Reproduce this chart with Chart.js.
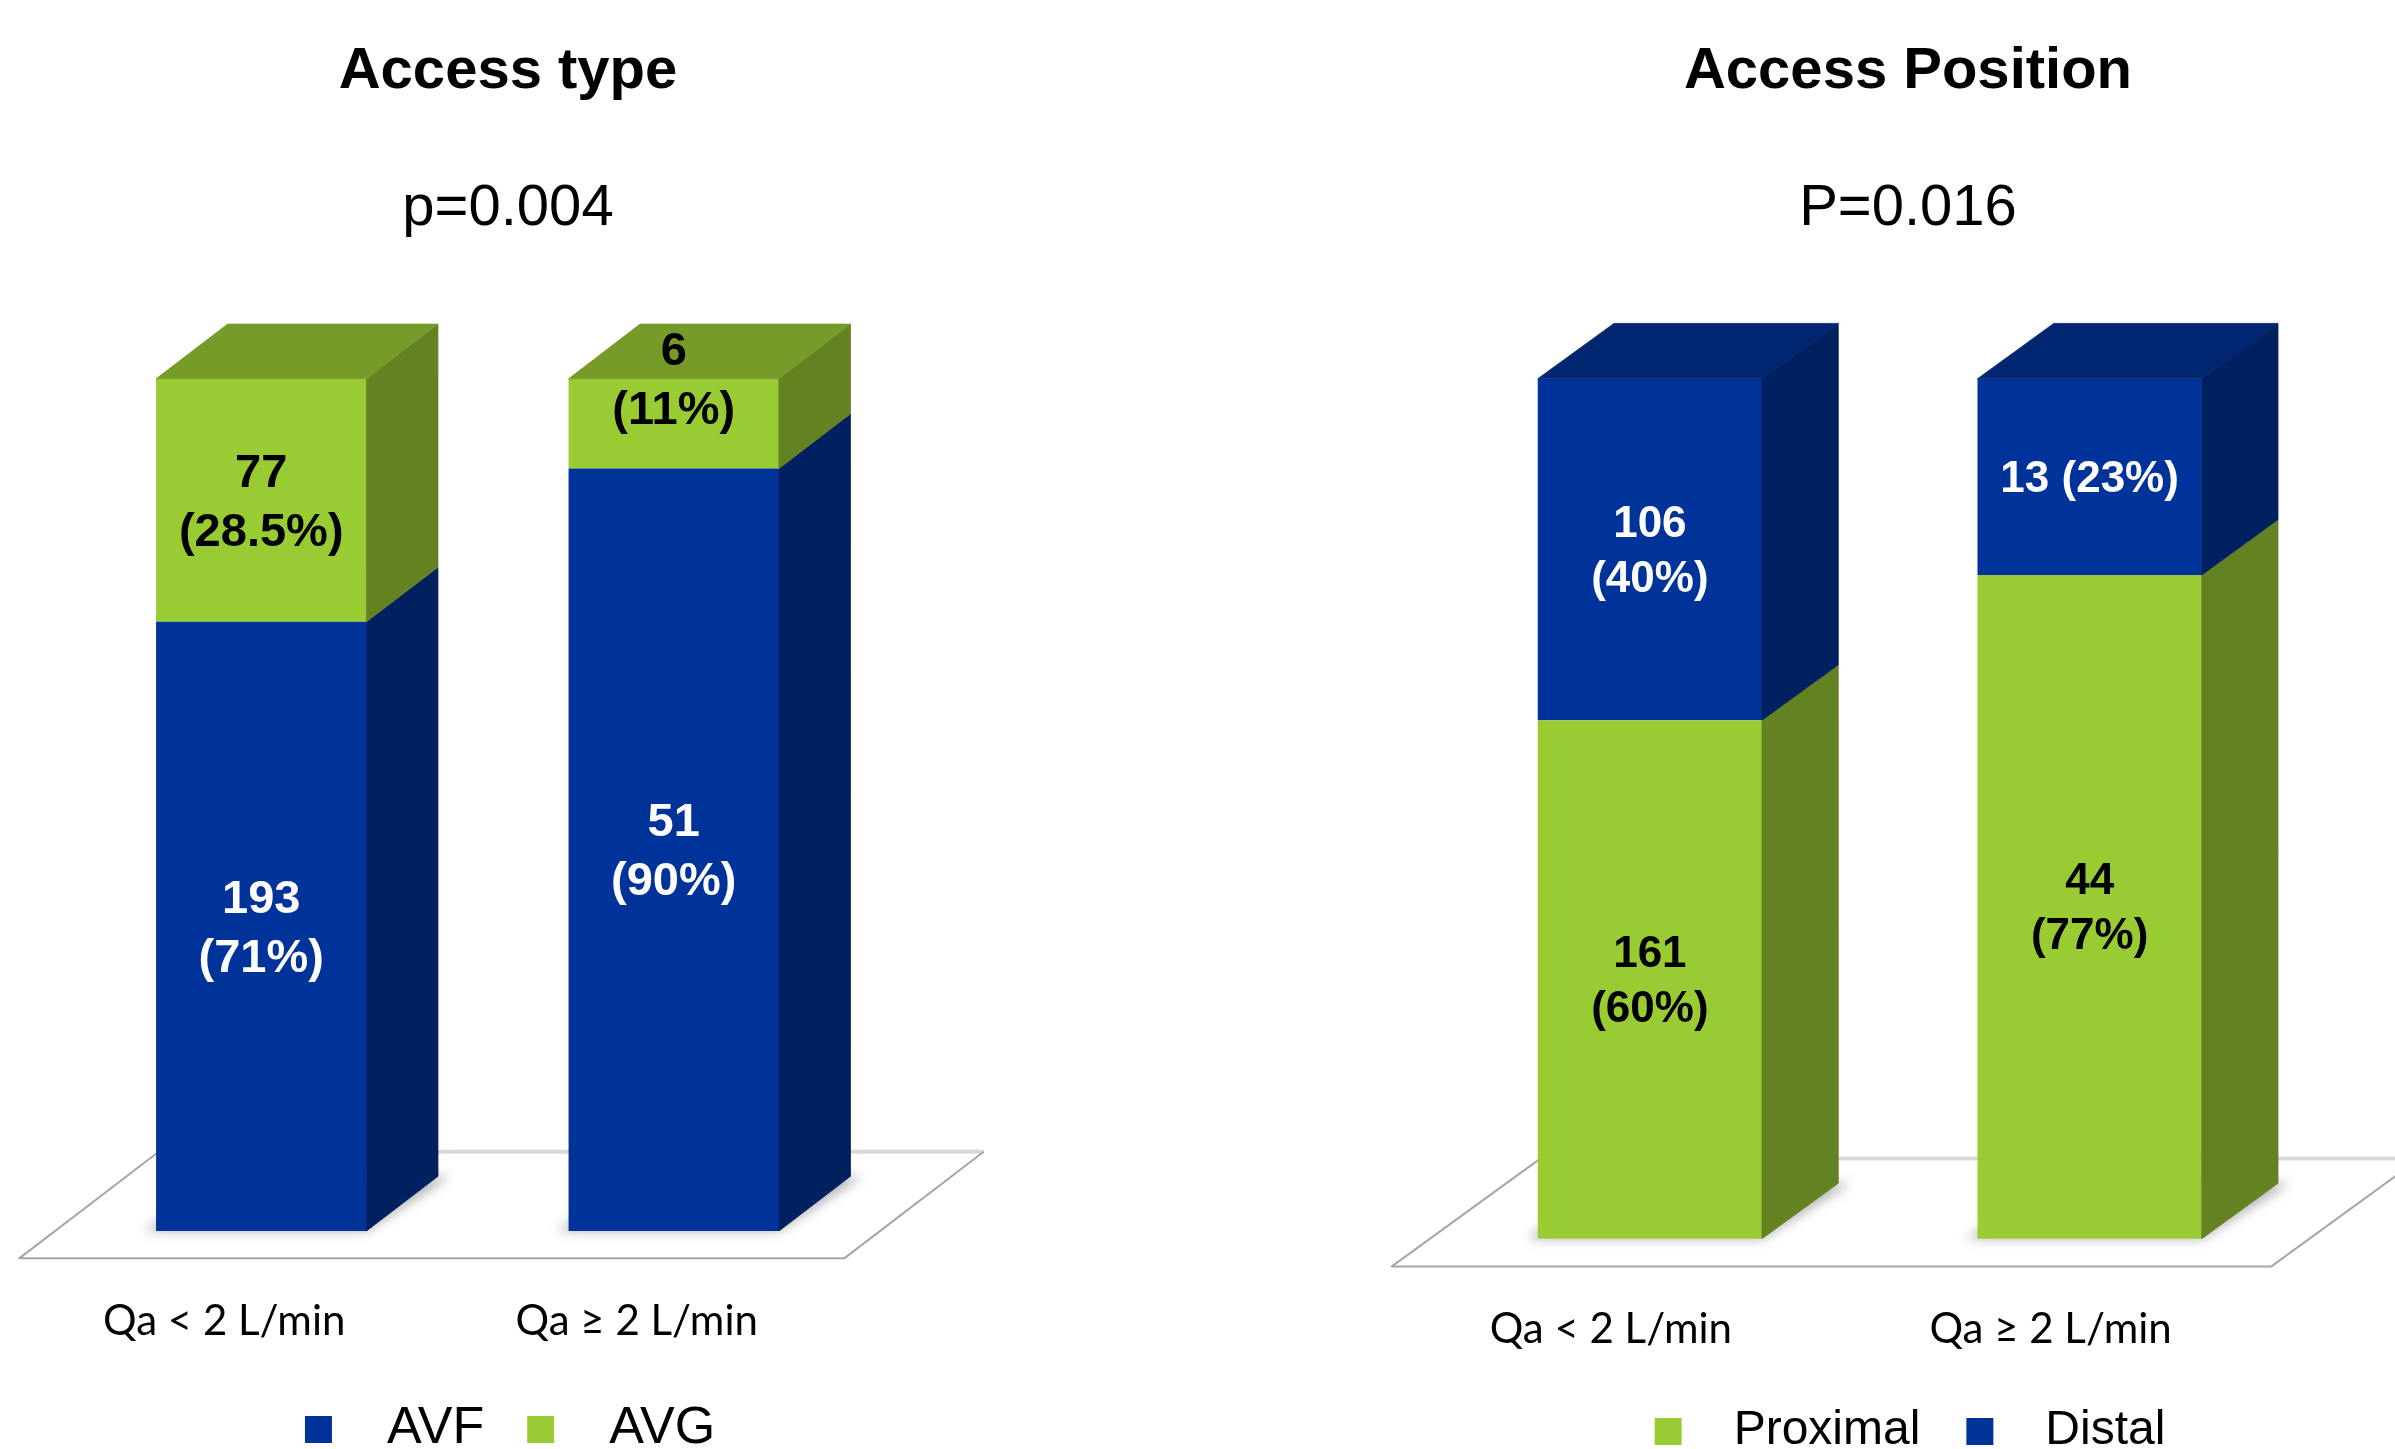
<!DOCTYPE html>
<html>
<head>
<meta charset="utf-8">
<script src="https://cdn.jsdelivr.net/npm/chart.js@4.4.1/dist/chart.umd.min.js"></script>
<style>
  html, body { margin: 0; padding: 0; background: #ffffff; overflow: hidden; width: 2395px; height: 1449px; }
  #typeChart { position: absolute; left: 0; top: 0; }
  #positionChart { position: absolute; left: 1016px; top: 0; }
</style>
</head>
<body>
<canvas id="typeChart" width="1016" height="1465"></canvas>
<canvas id="positionChart" width="1379" height="1465"></canvas>
<script>
// ---------------- data ----------------
const categories = ['Qa < 2 L/min', 'Qa \u2265 2 L/min'];

// Access type
const avfCounts = [193, 51];
const avgCounts = [77, 6];
const avfPctText = ['71%', '90%'];
const avgPctText = ['28.5%', '11%'];

// Access position
const proximalCounts = [161, 44];
const distalCounts = [106, 13];
const proximalPctText = ['60%', '77%'];
const distalPctText = ['40%', '23%'];

// ---------------- helpers ----------------
const FONT = "'Liberation Sans', Arial, Helvetica, sans-serif";
Chart.defaults.color = '#000000';

const BLUE = { front: '#003399', side: '#00205f', top: '#002672' };
const GREEN = { front: '#99cc33', side: '#658223', top: '#779b28' };

function shareOf(counts, other) {
  return counts.map((c, i) => 100 * c / (c + other[i]));
}
function labelLines(counts, pct, inline) {
  return counts.map((c, i) => inline && inline[i] ? [c + ' (' + pct[i] + ')'] : [String(c), '(' + pct[i] + ')']);
}
function swatch(color, w, h, a, s) {
  const c = document.createElement('canvas');
  c.width = w; c.height = h;
  const g = c.getContext('2d');
  g.fillStyle = color;
  g.fillRect(a, (h - s) / 2, s, s);
  return c;
}

function poly(ctx, pts, fill) {
  ctx.beginPath();
  ctx.moveTo(pts[0][0], pts[0][1]);
  for (let i = 1; i < pts.length; i++) ctx.lineTo(pts[i][0], pts[i][1]);
  ctx.closePath();
  ctx.fillStyle = fill;
  ctx.strokeStyle = fill;
  ctx.lineWidth = 0.8;
  ctx.fill();
  ctx.stroke();
}

const bar3d = {
  id: 'bar3d',
  beforeDatasetsDraw(chart, args, o) {
    const { ctx, chartArea: ca } = chart;
    const base = chart.scales.y.getPixelForValue(0);
    const bw = chart.getDatasetMeta(0).data[0].width;
    const dx = bw * o.dx, dy = bw * o.dy;
    const fl = [ca.left - o.front * dx, base + o.front * dy];
    const fr = [ca.right - o.front * dx, base + o.front * dy];
    const br = [ca.right + o.back * dx, base - o.back * dy];
    const bl = [ca.left + o.back * dx, base - o.back * dy];
    ctx.save();
    ctx.beginPath();
    ctx.moveTo(fl[0], fl[1]); ctx.lineTo(fr[0], fr[1]); ctx.lineTo(br[0], br[1]); ctx.lineTo(bl[0], bl[1]);
    ctx.closePath();
    ctx.fillStyle = '#ffffff';
    ctx.fill();
    ctx.lineJoin = 'round';
    ctx.strokeStyle = '#d9d9d9'; ctx.lineWidth = 4;
    ctx.beginPath(); ctx.moveTo(bl[0], bl[1]); ctx.lineTo(br[0], br[1]); ctx.stroke();
    ctx.strokeStyle = '#a6a6a6'; ctx.lineWidth = 2;
    ctx.beginPath();
    ctx.moveTo(br[0], br[1]); ctx.lineTo(fr[0], fr[1]); ctx.lineTo(fl[0], fl[1]); ctx.lineTo(bl[0], bl[1]);
    ctx.stroke();
    // soft shadow at the foot of every bar
    ctx.filter = 'blur(6px)';
    ctx.fillStyle = 'rgba(0,0,0,0.3)';
    chart.getDatasetMeta(0).data.forEach(el => {
      const x1 = el.x - el.width / 2, x2 = el.x + el.width / 2;
      ctx.beginPath();
      ctx.moveTo(x1 - 12, base); ctx.lineTo(x2, base);
      ctx.lineTo(x2 + dx + 12, base - dy); ctx.lineTo(x1 + dx, base - dy);
      ctx.closePath();
      ctx.fill();
    });
    ctx.restore();
  },
  afterDatasetsDraw(chart, args, o) {
    const { ctx } = chart;
    const metas = chart.data.datasets.map((d, i) => chart.getDatasetMeta(i));
    const bw = metas[0].data[0].width;
    const dx = bw * o.dx, dy = bw * o.dy;
    ctx.save();
    for (let j = 0; j < chart.data.labels.length; j++) {
      let topSeg = null;
      metas.forEach((m, i) => {
        const p = m.data[j].getProps(['x', 'y', 'base', 'width'], true);
        if (p.base - p.y <= 0) return;
        const ds = chart.data.datasets[i];
        const x2 = p.x + p.width / 2;
        poly(ctx, [[x2, p.y], [x2 + dx, p.y - dy], [x2 + dx, p.base - dy], [x2, p.base]], ds.sideColor);
        topSeg = { p, ds };
      });
      if (topSeg) {
        const { p, ds } = topSeg;
        const x1 = p.x - p.width / 2, x2 = p.x + p.width / 2;
        poly(ctx, [[x1, p.y], [x1 + dx, p.y - dy], [x2 + dx, p.y - dy], [x2, p.y]], ds.topColor);
      }
    }
    // value labels
    const fs = o.labelSize, lh = fs * o.labelLineHeight;
    ctx.font = 'bold ' + fs + 'px ' + FONT;
    ctx.textAlign = 'center';
    ctx.textBaseline = 'middle';
    chart.data.datasets.forEach((ds, i) => {
      metas[i].data.forEach((el, j) => {
        const p = el.getProps(['x', 'y', 'base'], true);
        const lines = ds.valueLabels[j];
        const blockH = lines.length * lh;
        const h = p.base - p.y;
        const cy = (h < blockH + 10 ? p.y : (p.y + p.base) / 2) + o.labelShift;
        ctx.fillStyle = ds.labelColor;
        lines.forEach((t, k) => ctx.fillText(t, p.x, cy + (k - (lines.length - 1) / 2) * lh));
      });
    });
    ctx.restore();
  }
};

function legendLabels(w, a, s) {
  return function (chart) {
    return chart.data.datasets.map((ds, i) => ({
      text: ds.label,
      fillStyle: ds.backgroundColor,
      strokeStyle: ds.backgroundColor,
      lineWidth: 0,
      fontColor: '#000000',
      pointStyle: swatch(ds.backgroundColor, w, s, a, s),
      hidden: false,
      datasetIndex: i
    }));
  };
}

function makeChart(id, cfg) {
  return new Chart(document.getElementById(id), {
    type: 'bar',
    data: { labels: categories, datasets: cfg.datasets },
    options: {
      responsive: false,
      animation: false,
      events: [],
      layout: { padding: { left: cfg.padLeft, right: 0, top: 0, bottom: 0 } },
      datasets: { bar: { barPercentage: 0.51, categoryPercentage: 1, borderWidth: 0 } },
      plugins: {
        title: {
          display: true, text: cfg.title, color: '#000000',
          font: { family: FONT, size: 58, weight: 'bold', lineHeight: 1.2 },
          padding: { top: 37.2, bottom: 0 }
        },
        subtitle: {
          display: true, text: cfg.subtitle, color: '#000000',
          font: { family: FONT, size: 58, weight: 'normal', lineHeight: 1.2 },
          padding: { top: 67.4, bottom: 135 }
        },
        legend: {
          position: 'bottom',
          labels: {
            usePointStyle: true,
            pointStyleWidth: cfg.legendBoxW,
            padding: cfg.legendPad,
            color: '#000000',
            font: { family: FONT, size: cfg.legendSize },
            generateLabels: legendLabels(cfg.legendBoxW, 4, 27)
          }
        },
        tooltip: { enabled: false },
        bar3d: {
          dx: cfg.dx, dy: cfg.dy, front: 0.5, back: 1.45,
          labelSize: cfg.labelSize, labelLineHeight: 1.25, labelShift: 3
        }
      },
      scales: {
        x: {
          stacked: true,
          grid: { display: false, drawTicks: false },
          border: { display: false },
          ticks: {
            padding: cfg.tickPad, labelOffset: cfg.labelOffset, color: '#000000',
            font: { family: 'Lato', size: 42 }
          },
          afterFit(s) { s.height = cfg.xHeight; }
        },
        y: {
          stacked: true, min: 0, max: 100,
          grid: { display: false, drawTicks: false },
          border: { display: false },
          ticks: { display: false },
          afterFit(s) { s.width = cfg.leftW; }
        },
        y2: {
          type: 'linear', position: 'right',
          grid: { display: false, drawTicks: false },
          border: { display: false },
          ticks: { display: false },
          afterFit(s) { s.width = cfg.rightW; }
        }
      }
    },
    plugins: [bar3d]
  });
}

makeChart('typeChart', {
  title: 'Access type',
  subtitle: 'p=0.004',
  padLeft: 0, leftW: 55, rightW: 136,
  xHeight: 133, tickPad: 65.5, labelOffset: -37,
  legendBoxW: 60, legendPad: 39, legendSize: 52,
  dx: 0.34, dy: 0.26, labelSize: 47,
  datasets: [
    {
      label: 'AVF', data: shareOf(avfCounts, avgCounts),
      backgroundColor: BLUE.front, sideColor: BLUE.side, topColor: BLUE.top,
      labelColor: '#ffffff', valueLabels: labelLines(avfCounts, avfPctText)
    },
    {
      label: 'AVG', data: shareOf(avgCounts, avfCounts),
      backgroundColor: GREEN.front, sideColor: GREEN.side, topColor: GREEN.top,
      labelColor: '#000000', valueLabels: labelLines(avgCounts, avgPctText)
    }
  ]
});

makeChart('positionChart', {
  title: 'Access Position',
  subtitle: 'P=0.016',
  padLeft: 405, leftW: 9, rightW: 85.5,
  xHeight: 126.3, tickPad: 65.5, labelOffset: -39,
  legendBoxW: 59, legendPad: 42, legendSize: 48,
  dx: 0.34, dy: 0.247, labelSize: 44,
  datasets: [
    {
      label: 'Proximal', data: shareOf(proximalCounts, distalCounts),
      backgroundColor: GREEN.front, sideColor: GREEN.side, topColor: GREEN.top,
      labelColor: '#000000', valueLabels: labelLines(proximalCounts, proximalPctText)
    },
    {
      label: 'Distal', data: shareOf(distalCounts, proximalCounts),
      backgroundColor: BLUE.front, sideColor: BLUE.side, topColor: BLUE.top,
      labelColor: '#ffffff', valueLabels: labelLines(distalCounts, distalPctText, [false, true])
    }
  ]
});
</script>
</body>
</html>
